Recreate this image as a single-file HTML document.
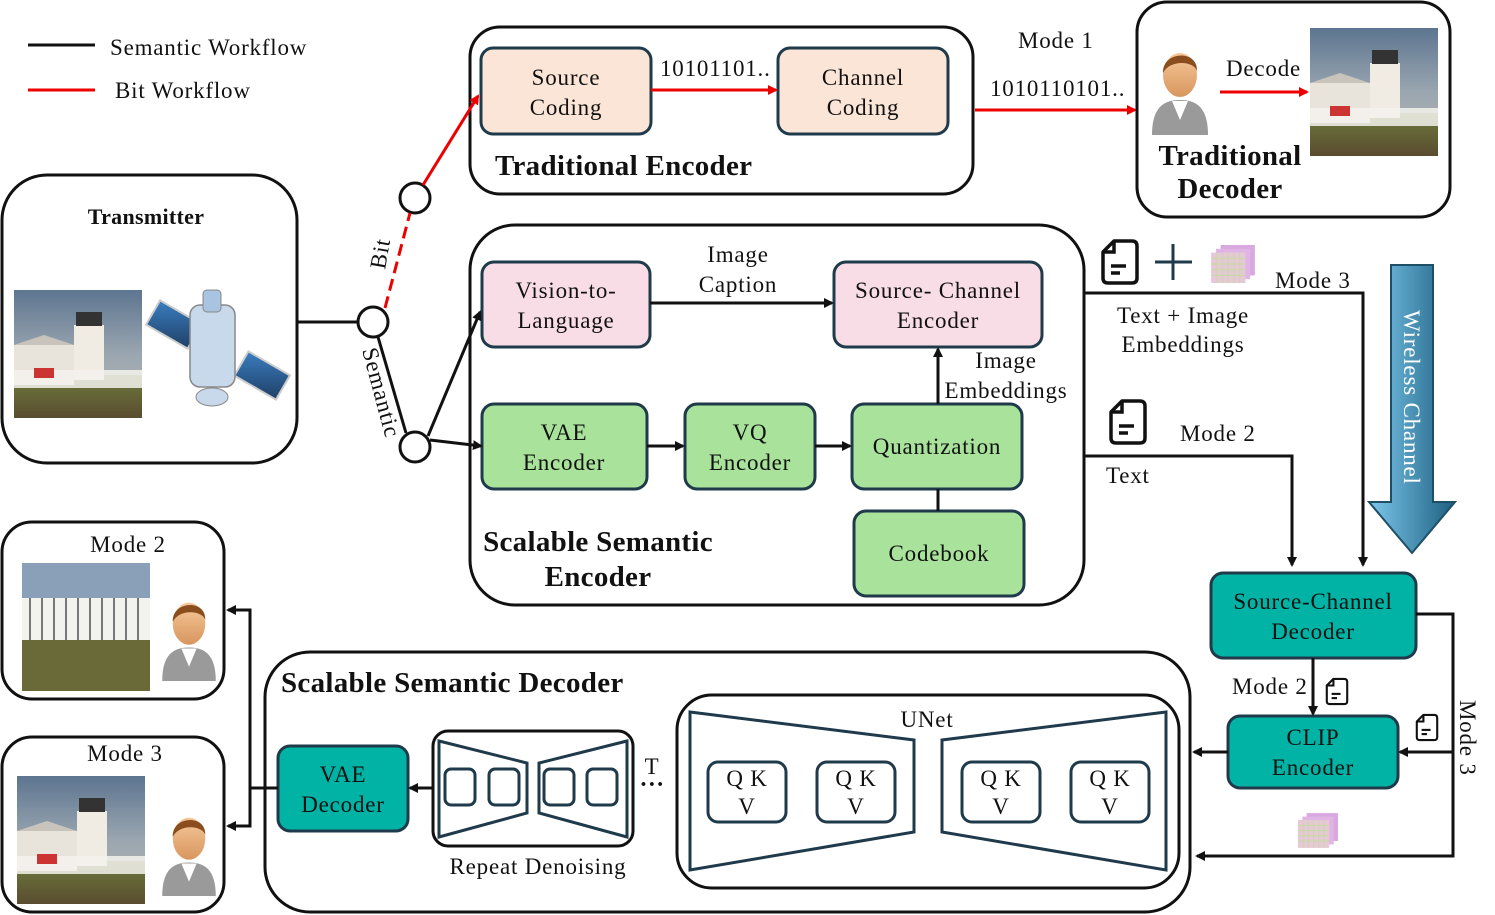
<!DOCTYPE html>
<html><head><meta charset="utf-8"><style>
html,body{margin:0;padding:0;background:#fff}
svg{display:block}
text{font-family:"Liberation Serif",serif;fill:#111;letter-spacing:0.8px}
.b{font-weight:bold;letter-spacing:0.3px}
</style></head><body>
<svg width="1495" height="915" viewBox="0 0 1495 915" xmlns="http://www.w3.org/2000/svg">
<defs>
<marker id="ak" markerWidth="10" markerHeight="10" refX="8" refY="5" orient="auto" markerUnits="userSpaceOnUse"><path d="M0,0 L10,5 L0,10 z" fill="#111"/></marker>
<marker id="ar" markerWidth="10" markerHeight="10" refX="8" refY="5" orient="auto" markerUnits="userSpaceOnUse"><path d="M0,0 L10,5 L0,10 z" fill="#e00"/></marker>
<linearGradient id="sky" x1="0" y1="0" x2="0" y2="1"><stop offset="0" stop-color="#5d7590"/><stop offset="0.5" stop-color="#9aa6b0"/><stop offset="1" stop-color="#b8b8b0"/></linearGradient>
<linearGradient id="grass" x1="0" y1="0" x2="0" y2="1"><stop offset="0" stop-color="#6d7a3c"/><stop offset="1" stop-color="#5a4c30"/></linearGradient>
<linearGradient id="wc" x1="0" y1="0" x2="1" y2="0"><stop offset="0" stop-color="#7cc8ec"/><stop offset="1" stop-color="#1d5f80"/></linearGradient>
<linearGradient id="pan" x1="0" y1="0" x2="1" y2="1"><stop offset="0" stop-color="#3a7ec0"/><stop offset="1" stop-color="#1f3f66"/></linearGradient>
<linearGradient id="skin" x1="0" y1="0" x2="0" y2="1"><stop offset="0" stop-color="#f6c89a"/><stop offset="1" stop-color="#d8965e"/></linearGradient>
<symbol id="photo" viewBox="0 0 128 128">
<rect width="128" height="128" fill="url(#sky)"/>
<rect x="0" y="85" width="128" height="43" fill="url(#grass)"/>
<rect x="0" y="55" width="60" height="40" fill="#e8e4dc"/>
<polygon points="0,55 30,45 60,55" fill="#c8c4bc"/>
<rect x="60" y="35" width="30" height="55" fill="#f0ece4"/>
<rect x="62" y="22" width="26" height="14" fill="#333"/>
<rect x="0" y="80" width="128" height="18" fill="#f4f2ee" opacity="0.85"/>
<rect x="20" y="78" width="20" height="10" fill="#c33"/>
</symbol>
<symbol id="person" viewBox="0 0 60 90">
<path d="M2,90 C2,62 14,55 30,55 C46,55 58,62 58,90 z" fill="#9a9a9a"/>
<path d="M22,56 L30,75 L38,56 z" fill="#fff"/>
<ellipse cx="30" cy="30" rx="17" ry="22" fill="url(#skin)"/>
<path d="M13,28 C12,6 48,4 47,26 C44,16 20,14 13,28 z" fill="#8a4e1e"/>
</symbol>
<symbol id="doc" viewBox="0 0 40 48">
<path d="M14,3 H32 Q37,3 37,8 V40 Q37,45 32,45 H8 Q3,45 3,40 V14 z" fill="none" stroke="#111" stroke-width="3.5" stroke-linejoin="round"/>
<path d="M14,3 V14 H3" fill="none" stroke="#111" stroke-width="3.5"/>
<line x1="11" y1="28" x2="26" y2="28" stroke="#111" stroke-width="3.5"/>
<line x1="11" y1="35" x2="20" y2="35" stroke="#111" stroke-width="3.5"/>
</symbol>
<symbol id="grid" viewBox="0 0 46 40">
<rect x="10" y="0" width="36" height="32" fill="#d9a8e0"/>
<rect x="5" y="4" width="36" height="32" fill="#e0b4e4"/>
<rect x="0" y="8" width="36" height="32" fill="#e8c8d8"/>
<path d="M6,8V40M12,8V40M18,8V40M24,8V40M30,8V40M0,14H36M0,20H36M0,26H36M0,32H36" stroke="#c9d8a8" stroke-width="1.3"/>
</symbol>
</defs>

<!-- legend -->
<line x1="28" y1="45" x2="95" y2="45" stroke="#111" stroke-width="3"/>
<text x="110" y="55" font-size="23">Semantic Workflow</text>
<line x1="28" y1="90" x2="95" y2="90" stroke="#e00" stroke-width="3"/>
<text x="115" y="98" font-size="23">Bit Workflow</text>

<!-- Traditional encoder -->
<rect x="470" y="27" width="503" height="167" rx="30" fill="#fff" stroke="#111" stroke-width="3"/>
<rect x="481" y="48" width="170" height="86" rx="12" fill="#fbe5d6" stroke="#1f3a4a" stroke-width="3"/>
<text x="566" y="85" font-size="23" text-anchor="middle">Source</text>
<text x="566" y="115" font-size="23" text-anchor="middle">Coding</text>
<rect x="778" y="48" width="170" height="86" rx="12" fill="#fbe5d6" stroke="#1f3a4a" stroke-width="3"/>
<text x="863" y="85" font-size="23" text-anchor="middle">Channel</text>
<text x="863" y="115" font-size="23" text-anchor="middle">Coding</text>
<line x1="651" y1="90" x2="776" y2="90" stroke="#e00" stroke-width="3" marker-end="url(#ar)"/>
<text x="660" y="76" font-size="23">10101101..</text>
<text x="495" y="175" font-size="29" class="b">Traditional Encoder</text>
<line x1="975" y1="110" x2="1135" y2="110" stroke="#e00" stroke-width="3" marker-end="url(#ar)"/>
<text x="1018" y="48" font-size="23">Mode 1</text>
<text x="990" y="96" font-size="23">1010110101..</text>

<!-- Traditional decoder -->
<rect x="1137" y="2" width="313" height="215" rx="30" fill="#fff" stroke="#111" stroke-width="3"/>
<use href="#person" x="1150" y="45" width="60" height="90"/>
<text x="1226" y="76" font-size="23">Decode</text>
<line x1="1220" y1="92" x2="1307" y2="92" stroke="#e00" stroke-width="3" marker-end="url(#ar)"/>
<use href="#photo" x="1310" y="28" width="128" height="128"/>
<text x="1230" y="165" font-size="29" class="b" text-anchor="middle">Traditional</text>
<text x="1230" y="198" font-size="29" class="b" text-anchor="middle">Decoder</text>

<!-- Transmitter -->
<rect x="2" y="175" width="295" height="288" rx="45" fill="#fff" stroke="#111" stroke-width="3"/>
<text x="146" y="224" font-size="22" class="b" text-anchor="middle">Transmitter</text>
<use href="#photo" x="13" y="290" width="130" height="128"/>
<g transform="translate(218,350) rotate(30)">
<rect x="-75" y="-14" width="48" height="28" fill="url(#pan)" stroke="#ccc" stroke-width="2"/>
<rect x="27" y="-14" width="48" height="28" fill="url(#pan)" stroke="#ccc" stroke-width="2"/>
</g>
<rect x="190" y="305" width="45" height="82" rx="10" fill="#c9d9ec" stroke="#888" stroke-width="1.5"/>
<rect x="203" y="290" width="18" height="22" rx="4" fill="#a9c4e0" stroke="#888"/>
<ellipse cx="212" cy="397" rx="16" ry="9" fill="#c9d9ec" stroke="#888"/>

<!-- Scalable semantic encoder -->
<rect x="470" y="225" width="614" height="380" rx="45" fill="#fff" stroke="#111" stroke-width="3"/>
<rect x="482" y="262" width="168" height="85" rx="12" fill="#f9dde6" stroke="#1f3a4a" stroke-width="3"/>
<text x="566" y="298" font-size="23" text-anchor="middle">Vision-to-</text>
<text x="566" y="328" font-size="23" text-anchor="middle">Language</text>
<rect x="834" y="262" width="208" height="85" rx="12" fill="#f9dde6" stroke="#1f3a4a" stroke-width="3"/>
<text x="938" y="298" font-size="23" text-anchor="middle">Source- Channel</text>
<text x="938" y="328" font-size="23" text-anchor="middle">Encoder</text>
<line x1="650" y1="303" x2="832" y2="303" stroke="#111" stroke-width="3" marker-end="url(#ak)"/>
<text x="738" y="262" font-size="23" text-anchor="middle">Image</text>
<text x="738" y="292" font-size="23" text-anchor="middle">Caption</text>
<rect x="482" y="404" width="165" height="85" rx="12" fill="#a9e29a" stroke="#1f3a4a" stroke-width="3"/>
<text x="564" y="440" font-size="23" text-anchor="middle">VAE</text>
<text x="564" y="470" font-size="23" text-anchor="middle">Encoder</text>
<rect x="685" y="404" width="130" height="85" rx="12" fill="#a9e29a" stroke="#1f3a4a" stroke-width="3"/>
<text x="750" y="440" font-size="23" text-anchor="middle">VQ</text>
<text x="750" y="470" font-size="23" text-anchor="middle">Encoder</text>
<rect x="852" y="404" width="170" height="85" rx="12" fill="#a9e29a" stroke="#1f3a4a" stroke-width="3"/>
<text x="937" y="454" font-size="23" text-anchor="middle">Quantization</text>
<rect x="854" y="511" width="170" height="85" rx="12" fill="#a9e29a" stroke="#1f3a4a" stroke-width="3"/>
<text x="939" y="561" font-size="23" text-anchor="middle">Codebook</text>
<line x1="647" y1="446" x2="683" y2="446" stroke="#111" stroke-width="3" marker-end="url(#ak)"/>
<line x1="815" y1="446" x2="850" y2="446" stroke="#111" stroke-width="3" marker-end="url(#ak)"/>
<line x1="938" y1="489" x2="938" y2="511" stroke="#111" stroke-width="3"/>
<line x1="938" y1="404" x2="938" y2="349" stroke="#111" stroke-width="3" marker-end="url(#ak)"/>
<text x="1006" y="368" font-size="23" text-anchor="middle">Image</text>
<text x="1006" y="398" font-size="23" text-anchor="middle">Embeddings</text>
<text x="598" y="551" font-size="29" class="b" text-anchor="middle">Scalable Semantic</text>
<text x="598" y="586" font-size="29" class="b" text-anchor="middle">Encoder</text>

<!-- switch -->
<line x1="297" y1="322" x2="358" y2="322" stroke="#111" stroke-width="3"/>
<circle cx="373" cy="322" r="15" fill="#fff" stroke="#111" stroke-width="3"/>
<circle cx="415" cy="198" r="15" fill="#fff" stroke="#111" stroke-width="3"/>
<circle cx="415" cy="447" r="15" fill="#fff" stroke="#111" stroke-width="3"/>
<line x1="385" y1="308" x2="410" y2="213" stroke="#e00" stroke-width="3" stroke-dasharray="12,6"/>
<line x1="423" y1="185" x2="478" y2="96" stroke="#e00" stroke-width="3" marker-end="url(#ar)"/>
<text transform="translate(385,270) rotate(-80)" font-size="23">Bit</text>
<text transform="translate(362,350) rotate(75)" font-size="23">Semantic</text>
<line x1="378" y1="337" x2="406" y2="433" stroke="#111" stroke-width="3"/>
<line x1="428" y1="436" x2="480" y2="312" stroke="#111" stroke-width="3" marker-end="url(#ak)"/>
<line x1="430" y1="440" x2="481" y2="446" stroke="#111" stroke-width="3" marker-end="url(#ak)"/>

<!-- channel paths -->
<use href="#doc" x="1100" y="238" width="40" height="48"/>
<path d="M1155,262H1192M1173,244V280" stroke="#1f3a4a" stroke-width="3"/>
<use href="#grid" x="1210" y="245" width="46" height="38"/>
<text x="1275" y="288" font-size="23">Mode 3</text>
<polyline points="1084,293 1363,293 1363,565" fill="none" stroke="#111" stroke-width="3" marker-end="url(#ak)"/>
<text x="1183" y="323" font-size="23" text-anchor="middle">Text + Image</text>
<text x="1183" y="352" font-size="23" text-anchor="middle">Embeddings</text>
<use href="#doc" x="1108" y="398" width="40" height="48"/>
<text x="1180" y="441" font-size="23">Mode 2</text>
<polyline points="1084,456 1292,456 1292,565" fill="none" stroke="#111" stroke-width="3" marker-end="url(#ak)"/>
<text x="1106" y="483" font-size="23">Text</text>

<!-- wireless channel -->
<path d="M1391,265 H1433 V502 H1455 L1412,553 L1369,502 H1391 z" fill="url(#wc)" stroke="#1f4f66" stroke-width="2"/>
<text transform="translate(1404,310) rotate(90)" font-size="23" style="fill:#fff">Wireless Channel</text>

<!-- receiver side -->
<rect x="1211" y="573" width="205" height="85" rx="12" fill="#00b3a4" stroke="#1f3a4a" stroke-width="3"/>
<text x="1313" y="609" font-size="23" text-anchor="middle">Source-Channel</text>
<text x="1313" y="639" font-size="23" text-anchor="middle">Decoder</text>
<rect x="1228" y="716" width="170" height="72" rx="12" fill="#00b3a4" stroke="#1f3a4a" stroke-width="3"/>
<text x="1313" y="745" font-size="23" text-anchor="middle">CLIP</text>
<text x="1313" y="775" font-size="23" text-anchor="middle">Encoder</text>
<line x1="1313" y1="658" x2="1313" y2="714" stroke="#111" stroke-width="3" marker-end="url(#ak)"/>
<text x="1232" y="694" font-size="23">Mode 2</text>
<use href="#doc" x="1325" y="677" width="24" height="29"/>
<use href="#doc" x="1415" y="713" width="24" height="29"/>
<polyline points="1416,614 1453,614 1453,856 1197,856" fill="none" stroke="#111" stroke-width="3" marker-end="url(#ak)"/>
<line x1="1453" y1="752" x2="1400" y2="752" stroke="#111" stroke-width="3" marker-end="url(#ak)"/>
<text transform="translate(1460,700) rotate(90)" font-size="23">Mode 3</text>
<line x1="1228" y1="752" x2="1194" y2="752" stroke="#111" stroke-width="3" marker-end="url(#ak)"/>
<use href="#grid" x="1298" y="813" width="40" height="35"/>

<!-- Scalable semantic decoder -->
<rect x="265" y="652" width="925" height="260" rx="45" fill="#fff" stroke="#111" stroke-width="3"/>
<text x="281" y="692" font-size="29" class="b">Scalable Semantic Decoder</text>
<rect x="677" y="695" width="502" height="193" rx="35" fill="#fff" stroke="#111" stroke-width="3"/>
<text x="927" y="727" font-size="23" text-anchor="middle">UNet</text>
<polygon points="690,712 914,740 914,832 690,870" fill="none" stroke="#1f3a4a" stroke-width="3"/>
<polygon points="1166,712 942,740 942,832 1166,870" fill="none" stroke="#1f3a4a" stroke-width="3"/>
<g fill="#fff" stroke="#1f3a4a" stroke-width="3">
<rect x="708" y="762" width="78" height="60" rx="10"/>
<rect x="817" y="762" width="78" height="60" rx="10"/>
<rect x="962" y="762" width="78" height="60" rx="10"/>
<rect x="1071" y="762" width="78" height="60" rx="10"/>
</g>
<g font-size="23" text-anchor="middle">
<text x="747" y="786">Q K</text><text x="747" y="814">V</text>
<text x="856" y="786">Q K</text><text x="856" y="814">V</text>
<text x="1001" y="786">Q K</text><text x="1001" y="814">V</text>
<text x="1110" y="786">Q K</text><text x="1110" y="814">V</text>
</g>
<text x="652" y="774" font-size="23" text-anchor="middle">T</text>
<text x="652" y="792" font-size="24" text-anchor="middle" class="b">···</text>
<rect x="433" y="731" width="200" height="115" rx="15" fill="#fff" stroke="#111" stroke-width="3"/>
<polygon points="439,741 527,763 527,813 439,837" fill="none" stroke="#1f3a4a" stroke-width="3"/>
<polygon points="627,741 539,763 539,813 627,837" fill="none" stroke="#1f3a4a" stroke-width="3"/>
<g fill="none" stroke="#1f3a4a" stroke-width="3">
<rect x="445" y="769" width="30" height="36" rx="6"/>
<rect x="489" y="769" width="30" height="36" rx="6"/>
<rect x="544" y="769" width="30" height="36" rx="6"/>
<rect x="587" y="769" width="30" height="36" rx="6"/>
</g>
<text x="538" y="874" font-size="23" text-anchor="middle">Repeat Denoising</text>
<rect x="278" y="746" width="130" height="85" rx="12" fill="#00b3a4" stroke="#1f3a4a" stroke-width="3"/>
<text x="343" y="782" font-size="23" text-anchor="middle">VAE</text>
<text x="343" y="812" font-size="23" text-anchor="middle">Decoder</text>
<line x1="433" y1="788" x2="410" y2="788" stroke="#111" stroke-width="3" marker-end="url(#ak)"/>

<!-- outputs -->
<polyline points="278,788 250,788 250,610 228,610" fill="none" stroke="#111" stroke-width="3" marker-end="url(#ak)"/>
<polyline points="250,788 250,826 228,826" fill="none" stroke="#111" stroke-width="3" marker-end="url(#ak)"/>
<rect x="2" y="522" width="222" height="177" rx="30" fill="#fff" stroke="#111" stroke-width="3"/>
<text x="128" y="552" font-size="23" text-anchor="middle">Mode 2</text>
<rect x="22" y="563" width="128" height="128" fill="#8aa0b8"/>
<rect x="22" y="630" width="128" height="61" fill="#6a6a38"/>
<rect x="22" y="598" width="128" height="42" fill="#f2f2ee"/>
<path d="M30,598V640M42,598V640M54,598V640M66,598V640M78,598V640M90,598V640M102,598V640M114,598V640M126,598V640M138,598V640" stroke="#777" stroke-width="2"/>
<use href="#person" x="160" y="595" width="58" height="86"/>
<rect x="2" y="737" width="222" height="175" rx="30" fill="#fff" stroke="#111" stroke-width="3"/>
<text x="125" y="761" font-size="23" text-anchor="middle">Mode 3</text>
<use href="#photo" x="17" y="776" width="128" height="128"/>
<use href="#person" x="160" y="810" width="58" height="86"/>
</svg>
</body></html>
